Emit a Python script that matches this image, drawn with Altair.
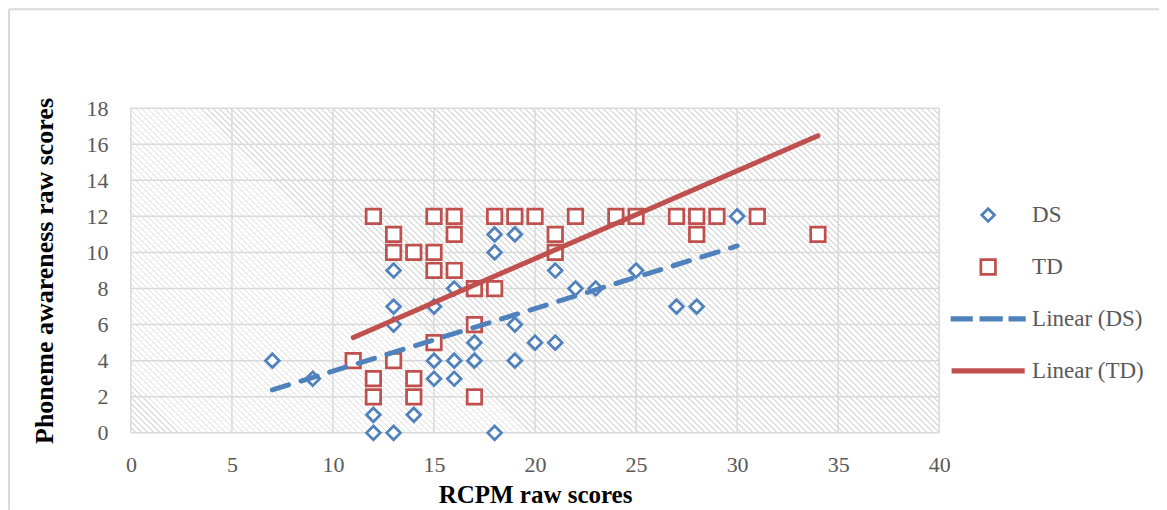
import altair as alt
import pandas as pd

# ---- data ----
ds_x = [7, 9, 12, 12, 13, 13, 13, 13, 14, 15, 15, 15, 16, 16, 16, 17, 17, 18, 18, 18,
        19, 19, 19, 20, 21, 21, 22, 23, 25, 27, 28, 30]
ds_y = [4, 3, 1, 0, 9, 7, 6, 0, 1, 7, 4, 3, 8, 4, 3, 5, 4, 11, 10, 0,
        11, 6, 4, 5, 9, 5, 8, 8, 9, 7, 7, 12]
td_x = [11, 12, 12, 12, 13, 13, 13, 14, 14, 14, 15, 15, 15, 15, 16, 16, 16, 17, 17, 17,
        18, 18, 19, 20, 21, 21, 22, 24, 25, 27, 28, 28, 29, 31, 34]
td_y = [4, 12, 3, 2, 11, 10, 4, 10, 3, 2, 12, 10, 9, 5, 12, 11, 9, 8, 6, 2,
        12, 8, 12, 12, 11, 10, 12, 12, 12, 12, 12, 11, 12, 12, 11]
# trendline end points as drawn in the reference
trend_ds_x = [7, 30]
trend_ds_y = [2.38, 10.36]
trend_td_x = [11, 34]
trend_td_y = [5.28, 16.47]
series_names = ["DS", "TD", "Linear (DS)", "Linear (TD)"]
x_ticks = [0, 5, 10, 15, 20, 25, 30, 35, 40]
y_ticks = [0, 2, 4, 6, 8, 10, 12, 14, 16, 18]

BLUE = "#4F81BD"
RED = "#C0504D"
GRID = "#d9d9d9"
TEXT = "#595959"
FONT = "Liberation Serif"

W, H = 809, 325

df = pd.DataFrame({
    "x": ds_x + td_x,
    "y": ds_y + td_y,
    "series": ["DS"] * len(ds_x) + ["TD"] * len(td_x),
})
trend = pd.DataFrame({
    "x": trend_ds_x + trend_td_x,
    "y": trend_ds_y + trend_td_y,
    "series": ["Linear (DS)"] * 2 + ["Linear (TD)"] * 2,
})

# ---- hatched background as a striped linear gradient ----
k = W * (W + H) / (W * W + H * H)
L = W + H
period, band = 6.0, 1.7
stops = []
i = 0
while i * period < L:
    a = i * period / L
    b = min((i * period + period - band) / L, 1.0)
    c = min((i + 1) * period / L, 1.0)
    stops += [alt.GradientStop(offset=round(a, 6), color="#ffffff"),
              alt.GradientStop(offset=round(b, 6), color="#ffffff"),
              alt.GradientStop(offset=round(b, 6), color="#dedede"),
              alt.GradientStop(offset=round(c, 6), color="#dedede")]
    i += 1
hatch = alt.LinearGradient(gradient="linear", stops=stops,
                           x1=0, y1=1, x2=round(k, 5), y2=round(1 - k * H / W, 5))

xscale = alt.Scale(domain=[0, 40], nice=False, zero=False)
yscale = alt.Scale(domain=[0, 18], nice=False, zero=False)
xaxis = alt.Axis(
    values=x_ticks, grid=False, ticks=False, domain=False, title="RCPM raw scores",
    labelFont=FONT, labelFontSize=22, labelColor=TEXT, labelPadding=22, labelFlush=False,
    titleFont=FONT, titleFontSize=25, titleFontWeight="bold", titleColor="#000000", titlePadding=7)
yaxis = alt.Axis(
    values=y_ticks, grid=False, ticks=False, domain=False, title="Phoneme awareness raw scores",
    labelFont=FONT, labelFontSize=22, labelColor=TEXT, labelPadding=23, labelFlush=False,
    titleFont=FONT, titleFontSize=26, titleFontWeight="bold", titleColor="#000000", titlePadding=28)

bg = alt.Chart(alt.Data(values=[{}])).mark_rect(fill=hatch, stroke=None).encode(
    x=alt.X(datum=0, scale=xscale, axis=xaxis),
    x2=alt.X2(datum=40),
    y=alt.Y(datum=0, scale=yscale, axis=yaxis),
    y2=alt.Y2(datum=18),
)

gridx = alt.Chart(pd.DataFrame({"t": x_ticks})).mark_rule(color=GRID, strokeWidth=1.5).encode(
    x=alt.X("t:Q", scale=xscale, axis=xaxis)
)
gridy = alt.Chart(pd.DataFrame({"t": y_ticks})).mark_rule(color=GRID, strokeWidth=1.5).encode(
    y=alt.Y("t:Q", scale=yscale, axis=yaxis)
)

color_scale = alt.Scale(domain=series_names, range=[BLUE, RED, BLUE, RED])

# legend symbols as unit-space paths (scaled by sqrt(symbolSize)/2 = 36.5px)
P_DIAMOND = "M-0.175,0L0,-0.175L0.175,0L0,0.175Z"
P_SQUARE = "M-0.2,-0.2L0.2,-0.2L0.2,0.2L-0.2,0.2Z"
P_DASHED = ("M-0.993,-0.034L-0.459,-0.034L-0.459,0.034L-0.993,0.034Z"
            "M-0.199,-0.034L0.363,-0.034L0.363,0.034L-0.199,0.034Z"
            "M0.596,-0.034L0.993,-0.034L0.993,0.034L0.596,0.034Z")
P_SOLID = "M-0.965,-0.034L0.965,-0.034L0.965,0.034L-0.965,0.034Z"
sym_expr = ("datum.value == 'DS' ? '" + P_DIAMOND + "' : (datum.value == 'TD' ? '" + P_SQUARE +
            "' : (datum.value == 'Linear (DS)' ? '" + P_DASHED + "' : '" + P_SOLID + "'))")

legend = alt.Legend(
    title=None, orient="none", legendX=820, legendY=96, padding=0,
    symbolType=alt.ExprRef(expr=sym_expr),
    symbolSize=5329, symbolStrokeWidth=2.75, symbolFillColor="#ffffff", symbolOpacity=1,
    clipHeight=22, rowPadding=29, labelOffset=6,
    labelFont=FONT, labelFontSize=23, labelColor=TEXT, labelLimit=300,
)

pts = alt.Chart(df).mark_point(filled=False, fill="#ffffff", strokeWidth=2.75, opacity=1).encode(
    x=alt.X("x:Q", scale=xscale, axis=xaxis),
    y=alt.Y("y:Q", scale=yscale, axis=yaxis),
    color=alt.Color("series:N", scale=color_scale, legend=legend),
    shape=alt.Shape("series:N", scale=alt.Scale(domain=["DS", "TD"], range=["diamond", "square"]), legend=None),
    size=alt.Size("series:N", scale=alt.Scale(domain=["DS", "TD"], range=[190, 210]), legend=None),
)

lines = alt.Chart(trend).mark_line(strokeWidth=5, strokeCap="round").encode(
    x=alt.X("x:Q", scale=xscale, axis=xaxis),
    y=alt.Y("y:Q", scale=yscale, axis=yaxis),
    color=alt.Color("series:N", scale=color_scale, legend=None),
    strokeDash=alt.StrokeDash("series:N", scale=alt.Scale(domain=["Linear (DS)", "Linear (TD)"],
                                                          range=[[17, 13], [1, 0]]), legend=None),
)

frame_left = alt.Chart(alt.Data(values=[{}])).mark_rule(color=GRID, strokeWidth=2).encode(
    x=alt.value(-122), y=alt.value(-99), y2=alt.value(402)
)
frame_top = alt.Chart(alt.Data(values=[{}])).mark_rule(color=GRID, strokeWidth=2).encode(
    x=alt.value(-122), x2=alt.value(1030), y=alt.value(-99)
)

chart = alt.layer(bg, gridx, gridy, pts, lines, frame_left, frame_top).properties(
    width=W, height=H,
    padding={"left": 123, "top": 100, "right": 220, "bottom": 77},
    autosize=alt.AutoSizeParams(type="none"),
).configure_view(stroke=None)

chart.save("out.html", embed_options={"renderer": "svg", "actions": False})
